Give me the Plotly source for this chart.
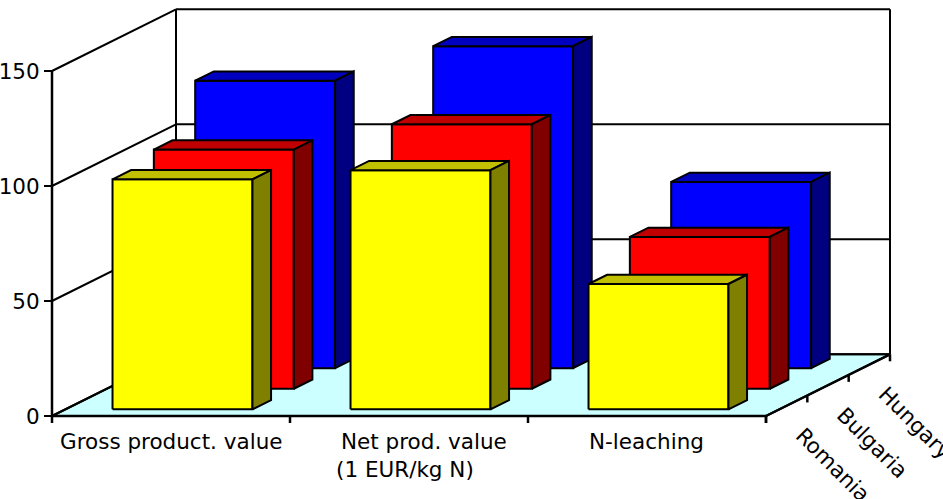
import plotly.graph_objects as go

# ---- data -------------------------------------------------------------
categories = ["Gross product. value", "Net prod. value", "N-leaching"]
category_sublabels = ["", "(1 EUR/kg N)", ""]
countries = ["Romania", "Bulgaria", "Hungary"]
romania = [100, 104, 54.5]
bulgaria = [104, 115, 66]
hungary = [125, 140, 81]
y_ticks = [0, 50, 100, 150]

series_values = [romania, bulgaria, hungary]
# front, top, side shades per series
series_colors = [
    ("#FFFF00", "#C0C000", "#808000"),
    ("#FF0000", "#C00000", "#800000"),
    ("#0000FF", "#0000C0", "#000080"),
]

# ---- oblique projection ------------------------------------------------
W, H = 943, 499
PX_PER_CAT = 238.0      # pixels per category on the front plane
PX_PER_UNIT = 2.3       # pixels per value unit
DEPTH_PX_X = 124.0      # horizontal shift of the full depth
DEPTH_PX_Y = 61.7       # vertical shift of the full depth
ORIGIN_PX = (52.0, 416.0)

DDX = DEPTH_PX_X / PX_PER_CAT
DDY = DEPTH_PX_Y / PX_PER_UNIT
Y_MAX = 150

BAR_LEFT = 0.198        # bar start inside a category slot
BAR_WIDTH = 0.588
SLOT = 1.0 / len(countries)
BAR_FRONT = 0.108       # depth of the front face of the first series
BAR_DEPTH = 0.15


def proj(x, y, d):
    return x + d * DDX, y + d * DDY


def poly(points):
    xs, ys = [], []
    for p in points + [points[0]]:
        px, py = proj(*p)
        xs.append(px)
        ys.append(py)
    return xs, ys


fig = go.Figure()

LINE = dict(color="black", width=2)


def add_fill(points, color):
    xs, ys = poly(points)
    fig.add_trace(go.Scatter(x=xs, y=ys, mode="lines", fill="toself",
                             fillcolor=color, line=LINE, hoverinfo="skip",
                             showlegend=False))


def add_lines(segments, width=2):
    xs, ys = [], []
    for a, b in segments:
        pa, pb = proj(*a), proj(*b)
        xs += [pa[0], pb[0], None]
        ys += [pa[1], pb[1], None]
    fig.add_trace(go.Scatter(x=xs, y=ys, mode="lines",
                             line=dict(color="black", width=width),
                             hoverinfo="skip", showlegend=False))


n_cat = len(categories)

# floor
add_fill([(0, 0, 0), (n_cat, 0, 0), (n_cat, 0, 1), (0, 0, 1)], "#CCFFFF")

# walls and gridlines
segs = []
for t in y_ticks:
    segs.append(((0, t, 0), (0, t, 1)))          # side wall
    segs.append(((0, t, 1), (n_cat, t, 1)))      # back wall
segs.append(((0, 0, 1), (0, Y_MAX, 1)))
segs.append(((n_cat, 0, 1), (n_cat, Y_MAX, 1)))
add_lines(segs)

# bars, back series first
for k in reversed(range(len(countries))):
    front, top, side = series_colors[k]
    d0 = BAR_FRONT + k * SLOT
    d1 = d0 + BAR_DEPTH
    for i, v in enumerate(series_values[k]):
        x0 = i + BAR_LEFT
        x1 = x0 + BAR_WIDTH
        add_fill([(x0, 0, d0), (x1, 0, d0), (x1, v, d0), (x0, v, d0)], front)
        add_fill([(x0, v, d0), (x1, v, d0), (x1, v, d1), (x0, v, d1)], top)
        add_fill([(x1, 0, d0), (x1, 0, d1), (x1, v, d1), (x1, v, d0)], side)

# front axes, category ticks and depth ticks
TICK_UNITS = 7 / PX_PER_UNIT
axis = [((0, 0, 0), (0, Y_MAX, 0)), ((0, 0, 0), (n_cat, 0, 0)),
        ((n_cat, 0, 0), (n_cat, 0, 1))]
for i in range(n_cat + 1):
    axis.append(((i, 0, 0), (i, -TICK_UNITS, 0)))
for k in range(len(countries) + 1):
    d = k * SLOT
    axis.append(((n_cat, 0, d), (n_cat, -TICK_UNITS, d)))
add_lines(axis, width=2.5)

FONT = dict(family="DejaVu Sans, Verdana, sans-serif", size=21.5, color="black")

# category labels
annotations = []
label_shift = [0, 15, -1]
for i, name in enumerate(categories):
    annotations.append(dict(x=i + 0.5, y=0, xref="x", yref="y", text=name,
                            showarrow=False, xanchor="center", yanchor="top",
                            xshift=label_shift[i], yshift=-11, font=FONT))
    if category_sublabels[i]:
        annotations.append(dict(x=i + 0.5, y=0, xref="x", yref="y",
                                text=category_sublabels[i], showarrow=False,
                                xanchor="center", yanchor="top", xshift=-4,
                                yshift=-39, font=FONT))

# depth (series) labels
for k, name in enumerate(countries):
    px, py = proj(n_cat, 0, (k + 0.5) * SLOT)
    annotations.append(dict(x=px, y=py, xref="x", yref="y", text=name,
                            showarrow=False, textangle=45, xanchor="left",
                            yanchor="top", xshift=1, yshift=-14, font=FONT))

x_lo = -ORIGIN_PX[0] / PX_PER_CAT
x_hi = (W - ORIGIN_PX[0]) / PX_PER_CAT
y_lo = -(H - ORIGIN_PX[1]) / PX_PER_UNIT
y_hi = ORIGIN_PX[1] / PX_PER_UNIT

fig.update_layout(
    width=W, height=H, margin=dict(l=0, r=0, t=0, b=0),
    paper_bgcolor="white", plot_bgcolor="white",
    showlegend=False, annotations=annotations,
    xaxis=dict(range=[x_lo, x_hi], visible=False, domain=[0, 1]),
    yaxis=dict(range=[y_lo, y_hi], anchor="free",
               position=ORIGIN_PX[0] / W, showline=False, showgrid=False,
               zeroline=False, tickmode="array", tickvals=y_ticks,
               ticks="outside", ticklen=8, tickwidth=2, tickcolor="black",
               tickfont=FONT, domain=[0, 1]),
)

fig.write_html("out.html", config={"displayModeBar": False})
